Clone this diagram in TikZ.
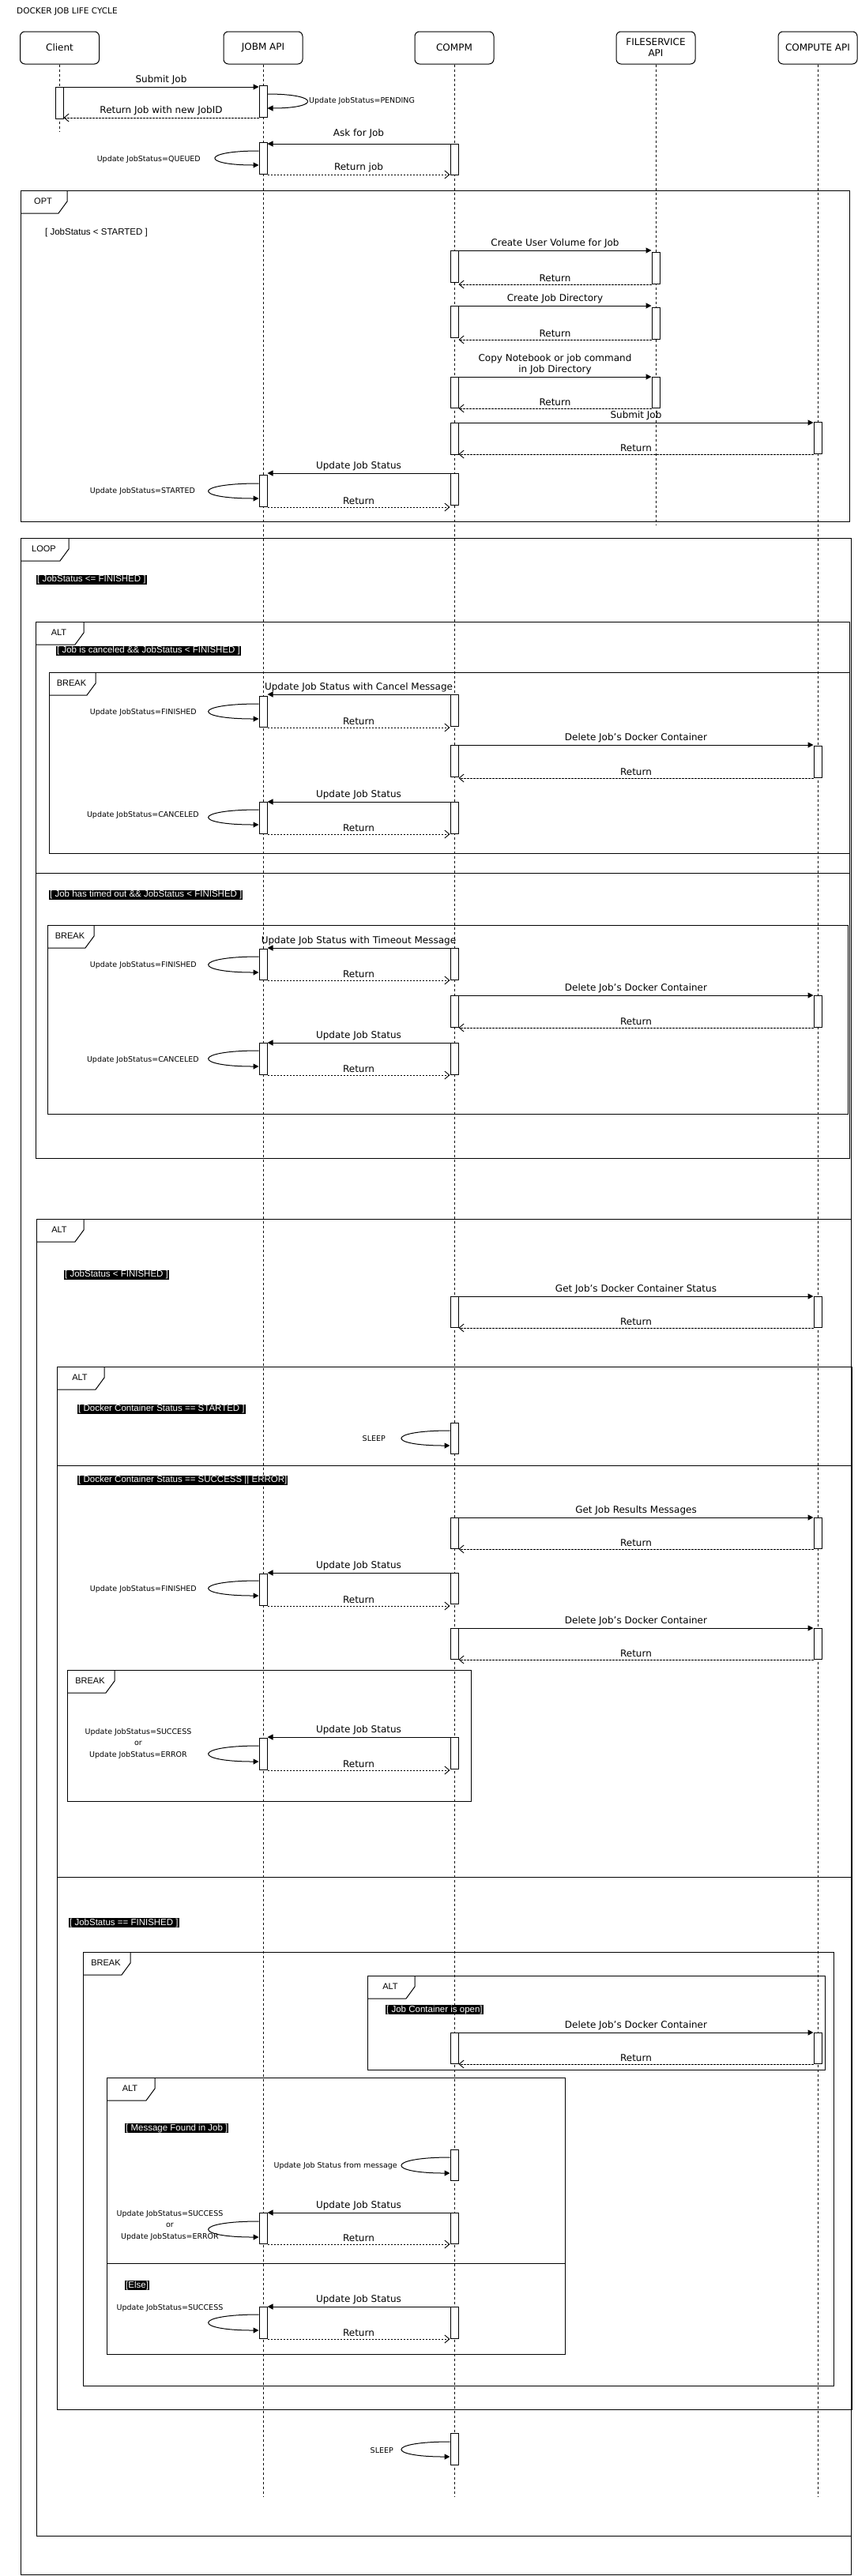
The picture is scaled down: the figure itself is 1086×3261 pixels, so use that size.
\documentclass[tikz,border=0pt]{standalone}
\usepackage{fontspec}
\setmainfont{DejaVu Sans}
\newfontfamily\arialf{Liberation Sans}
\usetikzlibrary{arrows.meta,calc}
\tikzset{
 hdr/.style={draw, rounded corners=6pt, minimum width=100pt, minimum height=41pt, line width=1pt, font=\fontsize{12}{14}\selectfont, align=center, inner sep=0},
 lifeline/.style={line width=0.8pt, dash pattern=on 3pt off 3pt},
 abar/.style={draw, fill=white, minimum width=10pt, inner sep=0, anchor=north, line width=1pt},
 call/.style={line width=1pt, -{Triangle[length=7pt,width=7pt]}},
 ret/.style={line width=0.9pt, dash pattern=on 2.5pt off 1.5pt, -{Straight Barb[length=6pt,width=10pt]}},
 selfl/.style={line width=1pt, -{Triangle[length=7pt,width=7pt]}},
 lbl/.style={font=\fontsize{12}{14}\selectfont, inner sep=2.5pt, align=center},
 slbl/.style={font=\fontsize{9.5}{14.5}\selectfont, inner sep=0, align=center},
 frame/.style={line width=1pt},
 flabel/.style={font=\arialf\fontsize{11}{13}\selectfont, inner sep=0},
 guard/.style={fill=black, text=white, font=\arialf\fontsize{11.5}{12}\selectfont, inner xsep=1pt, inner ysep=1pt, anchor=west},
}
\newcommand\umlframe[7]{%
 \draw[frame] (#1,#2) rectangle (#3,#4);
 \draw[frame] (#1,#2+29) -- (#5-11,#2+29) -- (#5,#2+14) -- (#5,#2);
 \node[flabel] (#7) at ({(#1+#5)/2-1},#2+14) {#6};}
\newcommand\actbar[4]{\node[abar, minimum height={(#4)-(#3)}] (#1) at (#2,#3) {};}
\newcommand\loopleft[4]{\draw[selfl] (#1.west |- 0,#2) .. controls +(-#4,0) and +(-#4,0) .. (#1.west |- 0,#3);}
\newcommand\loopright[4]{\draw[selfl] (#1.east |- 0,#2) .. controls +(#4,0) and +(#4,0) .. (#1.east |- 0,#3);}
\begin{document}
\begin{tikzpicture}[x=1pt,y=-1pt]
\useasboundingbox (0,0) rectangle (1086,3261);
\node[anchor=west, font=\fontsize{10.5}{12}\selectfont, inner sep=0] (title) at (21,15) {DOCKER JOB LIFE CYCLE};
% ---------- frames
\umlframe{26}{241}{1075}{660}{85}{OPT}{fOPT}
\umlframe{26}{681}{1077}{3259.5}{87}{LOOP}{fLOOP}
\umlframe{45}{787}{1075}{1466}{106}{ALT}{fALTa}
\draw[frame] (45,1105) -- (1075,1105);
\umlframe{62}{851}{1075}{1080}{121}{BREAK}{fBRa}
\umlframe{60}{1171}{1073}{1410}{119}{BREAK}{fBRb}
\umlframe{46}{1543}{1077}{3210}{106}{ALT}{fALTb}
\umlframe{72}{1730}{1078}{3050}{132}{ALT}{fALTc}
\draw[frame] (72,1855) -- (1078,1855);
\draw[frame] (72,2376) -- (1078,2376);
\umlframe{85}{2114}{596}{2280}{145}{BREAK}{fBRc}
\umlframe{105}{2471}{1055}{3020}{165}{BREAK}{fBRd}
\umlframe{465}{2501}{1044}{2620}{525}{ALT}{fALTd}
\umlframe{135}{2630}{715}{2980}{196}{ALT}{fALTe}
\draw[frame] (135,2865) -- (715,2865);
% ---------- headers and lifelines
\node[hdr] (client) at (75.5,60.5) {Client};
\node[hdr] (jobm) at (333,60.5) {JOBM API};
\node[hdr] (compm) at (575,60.5) {COMPM};
\node[hdr] (fs) at (830,60.5) {FILESERVICE\\API};
\node[hdr] (cpu) at (1035,60.5) {COMPUTE API};
\coordinate (clientEnd) at (75,167);
\coordinate (jobmEnd) at (333,3160);
\coordinate (compmEnd) at (575,3160);
\coordinate (fsEnd) at (830,665);
\coordinate (cpuEnd) at (1035,3160);
\draw[lifeline] (client.south -| clientEnd) -- (clientEnd);
\draw[lifeline] (jobm.south) -- (jobmEnd);
\draw[lifeline] (compm.south) -- (compmEnd);
\draw[lifeline] (fs.south) -- (fsEnd);
\draw[lifeline] (cpu.south) -- (cpuEnd);
% ---------- guards
\node[anchor=west, font=\arialf\fontsize{11.5}{13}\selectfont, inner sep=0] (g0) at (57,295) {[ JobStatus < STARTED ]};
\node[guard] (g1) at (46,734) {[ JobStatus <= FINISHED ]};
\node[guard] (g2) at (71,824) {[ Job is canceled \&\& JobStatus < FINISHED ]};
\node[guard] (g3) at (62,1133) {[ Job has timed out \&\& JobStatus < FINISHED ]};
\node[guard] (g4) at (81,1614) {[ JobStatus < FINISHED ]};
\node[guard] (g5) at (98,1784) {[ Docker Container Status == STARTED ]};
\node[guard] (g6) at (98,1874) {[ Docker Container Status == SUCCESS || ERROR]};
\node[guard] (g7) at (87,2434) {[ JobStatus == FINISHED ]};
\node[guard] (g8) at (488,2544) {[ Job Container is open]};
\node[guard] (g9) at (158,2694) {[ Message Found in Job ]};
\node[guard] (g10) at (158,2893) {[Else]};
% ---------- top
\actbar{c1}{75}{110}{150}
\actbar{j1}{333}{108}{148}
\draw[call] (c1.north east) -- (c1.north east -| j1.west) node[lbl,midway,above] (t1) {Submit Job};
\loopright{j1}{119}{137}{67}
\node[slbl, anchor=west] (s1) at (391,128) {Update JobStatus=PENDING};
\draw[ret] (j1.south west) -- (j1.south west -| c1.east) node[lbl,midway,above] (t2) {Return Job with new JobID};
\actbar{m1}{575}{182}{221}
\actbar{j2}{333}{180}{220}
\draw[call] (m1.north west) -- (m1.north west -| j2.east) node[lbl,midway,above=4pt] (t3) {Ask for Job};
\loopleft{j2}{191}{209}{73}
\node[slbl, anchor=east] (s2) at (254,202) {Update JobStatus=QUEUED};
\draw[ret] (j2.south east) -- (j2.south east -| m1.west) node[lbl,midway,above] (t4) {Return job};
% ---------- OPT
\actbar{m2}{575}{317}{357}
\actbar{f1}{830}{319}{359}
\draw[call] (m2.north east) -- (m2.north east -| f1.west) node[lbl,midway,above] (t5) {Create User Volume for Job};
\draw[ret] (f1.south west) -- (f1.south west -| m2.east) node[lbl,midway,above] (t6) {Return};
\actbar{m3}{575}{387}{427}
\actbar{f2}{830}{389}{429}
\draw[call] (m3.north east) -- (m3.north east -| f2.west) node[lbl,midway,above] (t7) {Create Job Directory};
\draw[ret] (f2.south west) -- (f2.south west -| m3.east) node[lbl,midway,above] (t8) {Return};
\actbar{m4}{575}{477}{516}
\actbar{f3}{830}{477}{516}
\draw[call] (m4.north east) -- (m4.north east -| f3.west) node[lbl,midway,above] (t9) {Copy Notebook or job command\\in Job Directory};
\draw[ret] (f3.south west) -- (f3.south west -| m4.east) node[lbl,midway,above] (t10) {Return};
\actbar{m5}{575}{535}{575}
\actbar{p1}{1035}{534}{574}
\draw[call] (m5.north east) -- (m5.north east -| p1.west) node[lbl,midway,above] (t11) {Submit Job};
\draw[ret] (p1.south west) -- (p1.south west -| m5.east) node[lbl,midway,above] (t12) {Return};
\actbar{m6}{575}{599}{639}
\actbar{j3}{333}{601}{641}
\draw[call] (m6.north west) -- (m6.north west -| j3.east) node[lbl,midway,above] (t13) {Update Job Status};
\loopleft{j3}{612}{631}{84}
\node[slbl, anchor=east] (s3) at (247,622) {Update JobStatus=STARTED};
\draw[ret] (j3.south east) -- (j3.south east -| m6.west) node[lbl,midway,above] (t14) {Return};
% ---------- BREAK (cancel)
\actbar{m7}{575}{879}{919}
\actbar{j4}{333}{881}{920}
\draw[call] (m7.north west) -- (m7.north west -| j4.east) node[lbl,midway,above] (t15) {Update Job Status with Cancel Message};
\loopleft{j4}{891}{910}{84}
\node[slbl, anchor=east] (s4) at (249,902) {Update JobStatus=FINISHED};
\draw[ret] (j4.south east) -- (j4.south east -| m7.west) node[lbl,midway,above] (t16) {Return};
\actbar{m8}{575}{943}{983}
\actbar{p2}{1035}{944}{984}
\draw[call] (m8.north east) -- (m8.north east -| p2.west) node[lbl,midway,above] (t17) {Delete Job's Docker Container};
\draw[ret] (p2.south west) -- (p2.south west -| m8.east) node[lbl,midway,above] (t18) {Return};
\actbar{m9}{575}{1015}{1055}
\actbar{j5}{333}{1015}{1055}
\draw[call] (m9.north west) -- (m9.north west -| j5.east) node[lbl,midway,above] (t19) {Update Job Status};
\loopleft{j5}{1025}{1044}{84}
\node[slbl, anchor=east] (s5) at (252,1032) {Update JobStatus=CANCELED};
\draw[ret] (j5.south east) -- (j5.south east -| m9.west) node[lbl,midway,above] (t20) {Return};
% ---------- BREAK (timeout)
\actbar{m10}{575}{1200}{1240}
\actbar{j6}{333}{1201}{1240}
\draw[call] (m10.north west) -- (m10.north west -| j6.east) node[lbl,midway,above] (t21) {Update Job Status with Timeout Message};
\loopleft{j6}{1211}{1231}{84}
\node[slbl, anchor=east] (s6) at (249,1222) {Update JobStatus=FINISHED};
\draw[ret] (j6.south east) -- (j6.south east -| m10.west) node[lbl,midway,above] (t22) {Return};
\actbar{m11}{575}{1260}{1300}
\actbar{p3}{1035}{1260}{1300}
\draw[call] (m11.north east) -- (m11.north east -| p3.west) node[lbl,midway,above] (t23) {Delete Job's Docker Container};
\draw[ret] (p3.south west) -- (p3.south west -| m11.east) node[lbl,midway,above] (t24) {Return};
\actbar{m12}{575}{1320}{1360}
\actbar{j7}{333}{1320}{1360}
\draw[call] (m12.north west) -- (m12.north west -| j7.east) node[lbl,midway,above] (t25) {Update Job Status};
\loopleft{j7}{1330}{1350}{84}
\node[slbl, anchor=east] (s7) at (252,1342) {Update JobStatus=CANCELED};
\draw[ret] (j7.south east) -- (j7.south east -| m12.west) node[lbl,midway,above] (t26) {Return};
% ---------- ALT JobStatus < FINISHED
\actbar{m13}{575}{1641}{1680}
\actbar{p4}{1035}{1641}{1680}
\draw[call] (m13.north east) -- (m13.north east -| p4.west) node[lbl,midway,above] (t27) {Get Job's Docker Container Status};
\draw[ret] (p4.south west) -- (p4.south west -| m13.east) node[lbl,midway,above] (t28) {Return};
\actbar{m14}{575}{1801}{1840}
\loopleft{m14}{1811}{1830}{81}
\node[slbl, anchor=east] (s8) at (488,1821) {SLEEP};
\actbar{m15}{575}{1921}{1960}
\actbar{p5}{1035}{1921}{1960}
\draw[call] (m15.north east) -- (m15.north east -| p5.west) node[lbl,midway,above] (t29) {Get Job Results Messages};
\draw[ret] (p5.south west) -- (p5.south west -| m15.east) node[lbl,midway,above] (t30) {Return};
\actbar{m16}{575}{1991}{2030}
\actbar{j8}{333}{1992}{2032}
\draw[call] (m16.north west) -- (m16.north west -| j8.east) node[lbl,midway,above] (t31) {Update Job Status};
\loopleft{j8}{2001}{2020}{84}
\node[slbl, anchor=east] (s9) at (249,2012) {Update JobStatus=FINISHED};
\draw[ret] (j8.south east) -- (j8.south east -| m16.west) node[lbl,midway,above] (t32) {Return};
\actbar{m17}{575}{2061}{2100}
\actbar{p6}{1035}{2061}{2100}
\draw[call] (m17.north east) -- (m17.north east -| p6.west) node[lbl,midway,above] (t33) {Delete Job's Docker Container};
\draw[ret] (p6.south west) -- (p6.south west -| m17.east) node[lbl,midway,above] (t34) {Return};
\actbar{m18}{575}{2199}{2239}
\actbar{j9}{333}{2200}{2240}
\draw[call] (m18.north west) -- (m18.north west -| j9.east) node[lbl,midway,above] (t35) {Update Job Status};
\loopleft{j9}{2210}{2230}{84}
\node[slbl] (s10) at (175,2207) {Update JobStatus=SUCCESS\\or\\Update JobStatus=ERROR};
\draw[ret] (j9.south east) -- (j9.south east -| m18.west) node[lbl,midway,above] (t36) {Return};
% ---------- JobStatus == FINISHED
\actbar{m19}{575}{2573}{2612}
\actbar{p7}{1035}{2573}{2612}
\draw[call] (m19.north east) -- (m19.north east -| p7.west) node[lbl,midway,above] (t37) {Delete Job's Docker Container};
\draw[ret] (p7.south west) -- (p7.south west -| m19.east) node[lbl,midway,above] (t38) {Return};
\actbar{m20}{575}{2721}{2760}
\loopleft{m20}{2731}{2751}{81}
\node[slbl, anchor=east] (s11) at (503,2742) {Update Job Status from message};
\actbar{m21}{575}{2801}{2840}
\actbar{j10}{333}{2801}{2840}
\draw[call] (m21.north west) -- (m21.north west -| j10.east) node[lbl,midway,above] (t39) {Update Job Status};
\loopleft{j10}{2812}{2832}{84}
\node[slbl] (s12) at (215,2817) {Update JobStatus=SUCCESS\\or\\Update JobStatus=ERROR};
\draw[ret] (j10.south east) -- (j10.south east -| m21.west) node[lbl,midway,above] (t40) {Return};
\actbar{m22}{575}{2920}{2960}
\actbar{j11}{333}{2920}{2960}
\draw[call] (m22.north west) -- (m22.north west -| j11.east) node[lbl,midway,above] (t41) {Update Job Status};
\loopleft{j11}{2930}{2950}{84}
\node[slbl] (s13) at (215,2922) {Update JobStatus=SUCCESS};
\draw[ret] (j11.south east) -- (j11.south east -| m22.west) node[lbl,midway,above] (t42) {Return};
% ---------- final sleep
\actbar{m23}{575}{3080}{3120}
\loopleft{m23}{3091}{3110}{81}
\node[slbl, anchor=east] (s14) at (498,3102) {SLEEP};
\end{tikzpicture}
\end{document}
